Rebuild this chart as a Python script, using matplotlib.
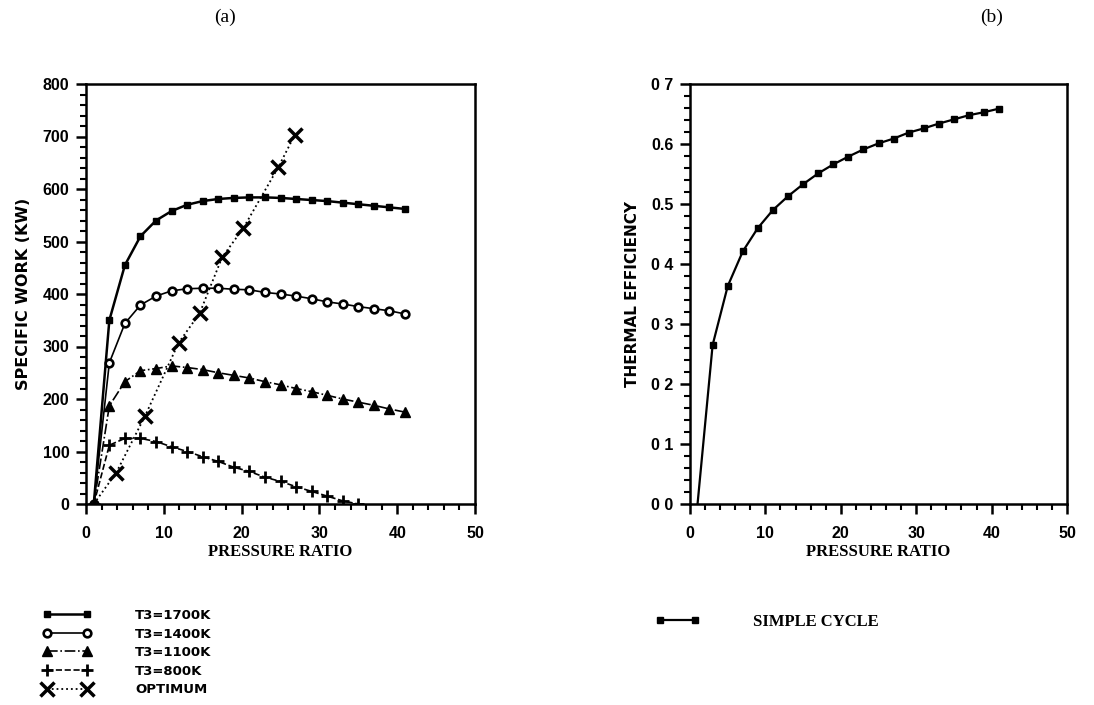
import numpy as np
import matplotlib
matplotlib.use('Agg')
import matplotlib.pyplot as plt
from matplotlib.ticker import MultipleLocator

# pressure ratio grid used by all the T3 curves
pr = [1, 3, 5, 7, 9, 11, 13, 15, 17, 19, 21, 23, 25, 27, 29, 31, 33, 35, 37, 39, 41]

work_1700 = [0, 350, 455, 510, 540, 558, 570, 577, 581, 583, 584, 584, 583, 581, 579, 577, 574, 571, 568, 565, 562]
work_1400 = [0, 269, 344, 379, 396, 406, 410, 411, 411, 409, 408, 403, 400, 396, 391, 385, 381, 376, 372, 368, 362]
work_1100 = [0, 187, 233, 254, 258, 263, 260, 256, 250, 245, 240, 233, 227, 220, 214, 207, 200, 194, 188, 181, 175]

pr_800 = [1, 3, 5, 7, 9, 11, 13, 15, 17, 19, 21, 23, 25, 27, 29, 31, 33, 35]
work_800 = [0, 112, 125, 125, 119, 109, 100, 90, 81, 70, 62, 51, 43, 33, 24, 15, 6, 0]

pr_opt = [1, 3.9, 7.6, 11.9, 14.6, 17.5, 20.2, 24.7, 26.8]
work_opt = [0, 60, 168, 307, 363, 470, 525, 641, 702]

# simple cycle thermal efficiency
pr_eff = [1, 3, 5, 7, 9, 11, 13, 15, 17, 19, 21, 23, 25, 27, 29, 31, 33, 35, 37, 39, 41]
eff = [0, 0.265, 0.363, 0.421, 0.460, 0.490, 0.513, 0.533, 0.551, 0.566, 0.579,
       0.591, 0.601, 0.609, 0.619, 0.626, 0.634, 0.641, 0.648, 0.653, 0.659]

eff_ticks = [0.0, 0.1, 0.2, 0.3, 0.4, 0.5, 0.6, 0.7]
eff_ticklabels = ['0 0', '0 1', '0 2', '0 3', '0 4', '0.5', '0.6', '0 7']

W, H = 1094, 705
fig = plt.figure(figsize=(W / 100, H / 100), dpi=100)

tickfont = dict(family='Liberation Sans', weight='bold', size=11.5)
serif_lbl = dict(family='Liberation Serif', weight='bold', size=12)


def style_axes(ax):
    for s in ax.spines.values():
        s.set_linewidth(1.8)
    ax.tick_params(which='major', direction='out', length=7, width=1.8, pad=5,
                   top=False, right=False)
    ax.tick_params(which='minor', direction='out', length=4, width=1.5,
                   top=False, right=False)
    ax.tick_params(axis='x', which='major', pad=9)
    ax.set_xlim(0, 50)
    ax.xaxis.set_major_locator(MultipleLocator(10))
    ax.xaxis.set_minor_locator(MultipleLocator(2))
    for lb in ax.get_xticklabels() + ax.get_yticklabels():
        lb.set_fontfamily(tickfont['family'])
        lb.set_fontweight(tickfont['weight'])
        lb.set_fontsize(tickfont['size'])
    ax.set_xlabel('PRESSURE RATIO', labelpad=2, **serif_lbl)


# (a) specific work
ax1 = fig.add_axes([86 / W, 1 - 504 / H, 389 / W, 420 / H])
l1, = ax1.plot(pr, work_1700, '-', color='black', lw=1.8, marker='s', ms=5)
l2, = ax1.plot(pr, work_1400, '-', color='black', lw=1.2, marker='o', ms=5.5,
               mfc='white', mec='black', mew=1.9)
l3, = ax1.plot(pr, work_1100, '-.', color='black', lw=1.2, marker='^', ms=7)
l4, = ax1.plot(pr_800, work_800, '--', color='black', lw=1.2, marker='+', ms=9, mew=2)
l5, = ax1.plot(pr_opt, work_opt, ':', color='black', lw=1.3, marker='x', ms=9.5, mew=2.5,
               markevery=list(range(1, len(pr_opt))))
ax1.set_ylim(0, 800)
ax1.yaxis.set_major_locator(MultipleLocator(100))
ax1.yaxis.set_minor_locator(MultipleLocator(20))
style_axes(ax1)
ax1.set_ylabel('SPECIFIC WORK (KW)', family='DejaVu Sans', weight='bold', size=11.5, labelpad=8)

# (b) thermal efficiency
ax2 = fig.add_axes([690 / W, 1 - 504 / H, 377 / W, 420 / H])
l6, = ax2.plot(pr_eff, eff, '-', color='black', lw=1.6, marker='s', ms=5,
               markevery=list(range(1, len(pr_eff))))
ax2.set_ylim(0, 0.7)
ax2.set_yticks(eff_ticks)
ax2.set_yticklabels(eff_ticklabels)
ax2.yaxis.set_minor_locator(MultipleLocator(0.02))
style_axes(ax2)
ax2.set_ylabel('THERMAL EFFICIENCY', family='DejaVu Sans', weight='bold', size=11, labelpad=8)

fig.text(225 / W, 1 - 17 / H, '(a)', family='Liberation Serif', size=14, ha='center', va='center')
fig.text(992 / W, 1 - 17 / H, '(b)', family='Liberation Serif', size=14, ha='center', va='center')

legfont = dict(family='DejaVu Sans', weight='bold', size=9.5)
leg1 = fig.legend([l1, l2, l3, l4, l5],
                  ['T3=1700K', 'T3=1400K', 'T3=1100K', 'T3=800K', 'OPTIMUM'],
                  loc='upper left', bbox_to_anchor=(43 / W, 1 - 609 / H), frameon=False,
                  numpoints=2, handlelength=3.6, handletextpad=3.4, labelspacing=0.42,
                  borderpad=0, borderaxespad=0, prop=legfont)
leg2 = fig.legend([l6], ['SIMPLE CYCLE'],
                  loc='upper left', bbox_to_anchor=(655 / W, 1 - 614 / H), frameon=False,
                  numpoints=2, handlelength=2.7, handletextpad=3.2,
                  borderpad=0, borderaxespad=0,
                  prop=dict(family='Liberation Serif', weight='bold', size=12))

fig.savefig('out.png', dpi=100)
